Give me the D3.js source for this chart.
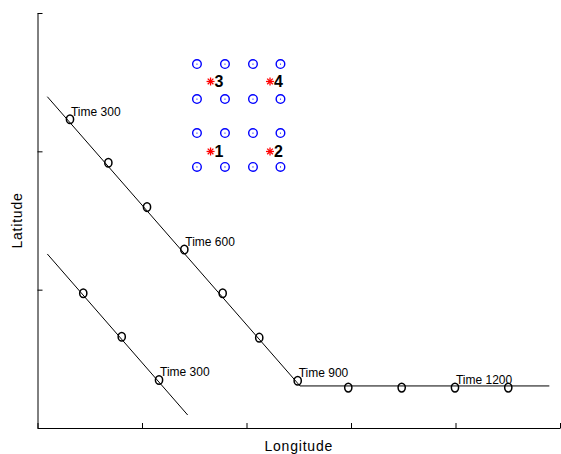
<!DOCTYPE html>
<html>
<head>
<meta charset="utf-8">
<script src="https://cdn.jsdelivr.net/npm/d3@7"></script>
<style>
  body { margin: 0; background: #fff; }
  svg { display: block; font-family: "Liberation Sans", Arial, sans-serif; }
</style>
</head>
<body>
<div id="showBox"></div>
<script>
// track of the upper storm: diagonal then flat
const upperLine = [[0.094, 2.395], [2.512, 0.304], [4.898, 0.304]];
const upperPts = [
    [0.311, 2.232], [0.678, 1.918], [1.048, 1.597], [1.405, 1.290],
    [1.772, 0.974], [2.122, 0.653], [2.490, 0.342],
    [2.974, 0.292], [3.485, 0.292], [3.995, 0.292], [4.505, 0.292]
];
const lowerLine = [[0.094, 1.258], [1.437, 0.094]];
const lowerPts = [[0.438, 0.974], [0.806, 0.660], [1.163, 0.347]];

// "Time" labels: [track, point index, text]
const timeLabels = [
    ["upper", 0, "Time 300"], ["upper", 3, "Time 600"],
    ["upper", 6, "Time 900"], ["upper", 9, "Time 1200"],
    ["lower", 2, "Time 300"]
];

// station grid and numbered stars
const gridX = [1.526, 1.794, 2.062, 2.325];
const gridY = [2.631, 2.378, 2.132, 1.887];
const stars = [[1.656, 1.999, "1"], [2.225, 1.999, "2"], [1.656, 2.505, "3"], [2.225, 2.505, "4"]];

const xTicks = [0, 1, 2, 3, 4, 5];
const yTicks = [0, 1, 2, 3];

const width = 561, height = 454;
const x = d3.scaleLinear().domain([0, 5]).range([37.5, 560]);
const y = d3.scaleLinear().domain([0, 3]).range([428, 13]);

const svg = d3.select("#showBox").append("svg")
    .attr("width", width)
    .attr("height", height);

// axes, ticks pointing inward, no labels
svg.append("g")
    .attr("transform", `translate(0,${y(0)})`)
    .call(d3.axisBottom(x).tickValues(xTicks).tickSizeInner(-5).tickSizeOuter(0).tickFormat(""))
    .call(g => g.selectAll("path, line").attr("stroke", "#000"));

svg.append("g")
    .attr("transform", `translate(${x(0)},0)`)
    .call(d3.axisLeft(y).tickValues(yTicks).tickSizeInner(-5).tickSizeOuter(0).tickFormat(""))
    .call(g => g.selectAll("path, line").attr("stroke", "#000"));

svg.append("text")
    .attr("x", (x(0) + x(5)) / 2)
    .attr("y", 451)
    .attr("text-anchor", "middle")
    .attr("font-size", 14)
    .attr("letter-spacing", 0.8)
    .text("Longitude");

svg.append("text")
    .attr("transform", `translate(22,${(y(0) + y(3)) / 2}) rotate(-90)`)
    .attr("text-anchor", "middle")
    .attr("font-size", 14)
    .attr("letter-spacing", 0.8)
    .text("Latitude");

const line = d3.line().x(d => x(d[0])).y(d => y(d[1]));

svg.append("g")
    .attr("fill", "none")
    .attr("stroke", "#000")
    .attr("stroke-width", 1)
    .selectAll("path")
    .data([upperLine, lowerLine])
    .join("path")
    .attr("d", line);

svg.append("g")
    .attr("fill", "none")
    .attr("stroke", "#000")
    .attr("stroke-width", 1.5)
    .selectAll("ellipse")
    .data(upperPts.concat(lowerPts))
    .join("ellipse")
    .attr("cx", d => x(d[0]))
    .attr("cy", d => y(d[1]))
    .attr("rx", 3.6)
    .attr("ry", 4.3);

svg.append("g")
    .attr("font-size", 12)
    .selectAll("text")
    .data(timeLabels)
    .join("text")
    .attr("x", d => x((d[0] === "upper" ? upperPts : lowerPts)[d[1]][0]) + 1)
    .attr("y", d => y((d[0] === "upper" ? upperPts : lowerPts)[d[1]][1]) - 3.5)
    .text(d => d[2]);

// blue grid of circles with centre dots
const grid = gridY.flatMap(gy => gridX.map(gx => [gx, gy]));
const gg = svg.append("g").attr("stroke", "#0000ff");
gg.selectAll("circle.ring")
    .data(grid)
    .join("circle")
    .attr("class", "ring")
    .attr("cx", d => x(d[0]))
    .attr("cy", d => y(d[1]))
    .attr("r", 4.3)
    .attr("fill", "none")
    .attr("stroke-width", 1.4);
gg.selectAll("circle.dot")
    .data(grid)
    .join("circle")
    .attr("class", "dot")
    .attr("cx", d => x(d[0]))
    .attr("cy", d => y(d[1]))
    .attr("r", 0.6)
    .attr("fill", "#0000ff")
    .attr("stroke", "none");

// red asterisks with bold numbers
const star = svg.append("g").selectAll("g")
    .data(stars)
    .join("g")
    .attr("transform", d => `translate(${x(d[0])},${y(d[1])})`);
star.selectAll("line")
    .data([0, 45, 90, 135])
    .join("line")
    .attr("x1", a => -4 * Math.cos(a * Math.PI / 180))
    .attr("y1", a => -4 * Math.sin(a * Math.PI / 180))
    .attr("x2", a => 4 * Math.cos(a * Math.PI / 180))
    .attr("y2", a => 4 * Math.sin(a * Math.PI / 180))
    .attr("stroke", "#ff0000")
    .attr("stroke-width", 1.3);
star.append("text")
    .attr("x", 4)
    .attr("y", 6)
    .attr("font-size", 16)
    .attr("font-weight", "bold")
    .text(d => d[2]);
</script>
</body>
</html>
